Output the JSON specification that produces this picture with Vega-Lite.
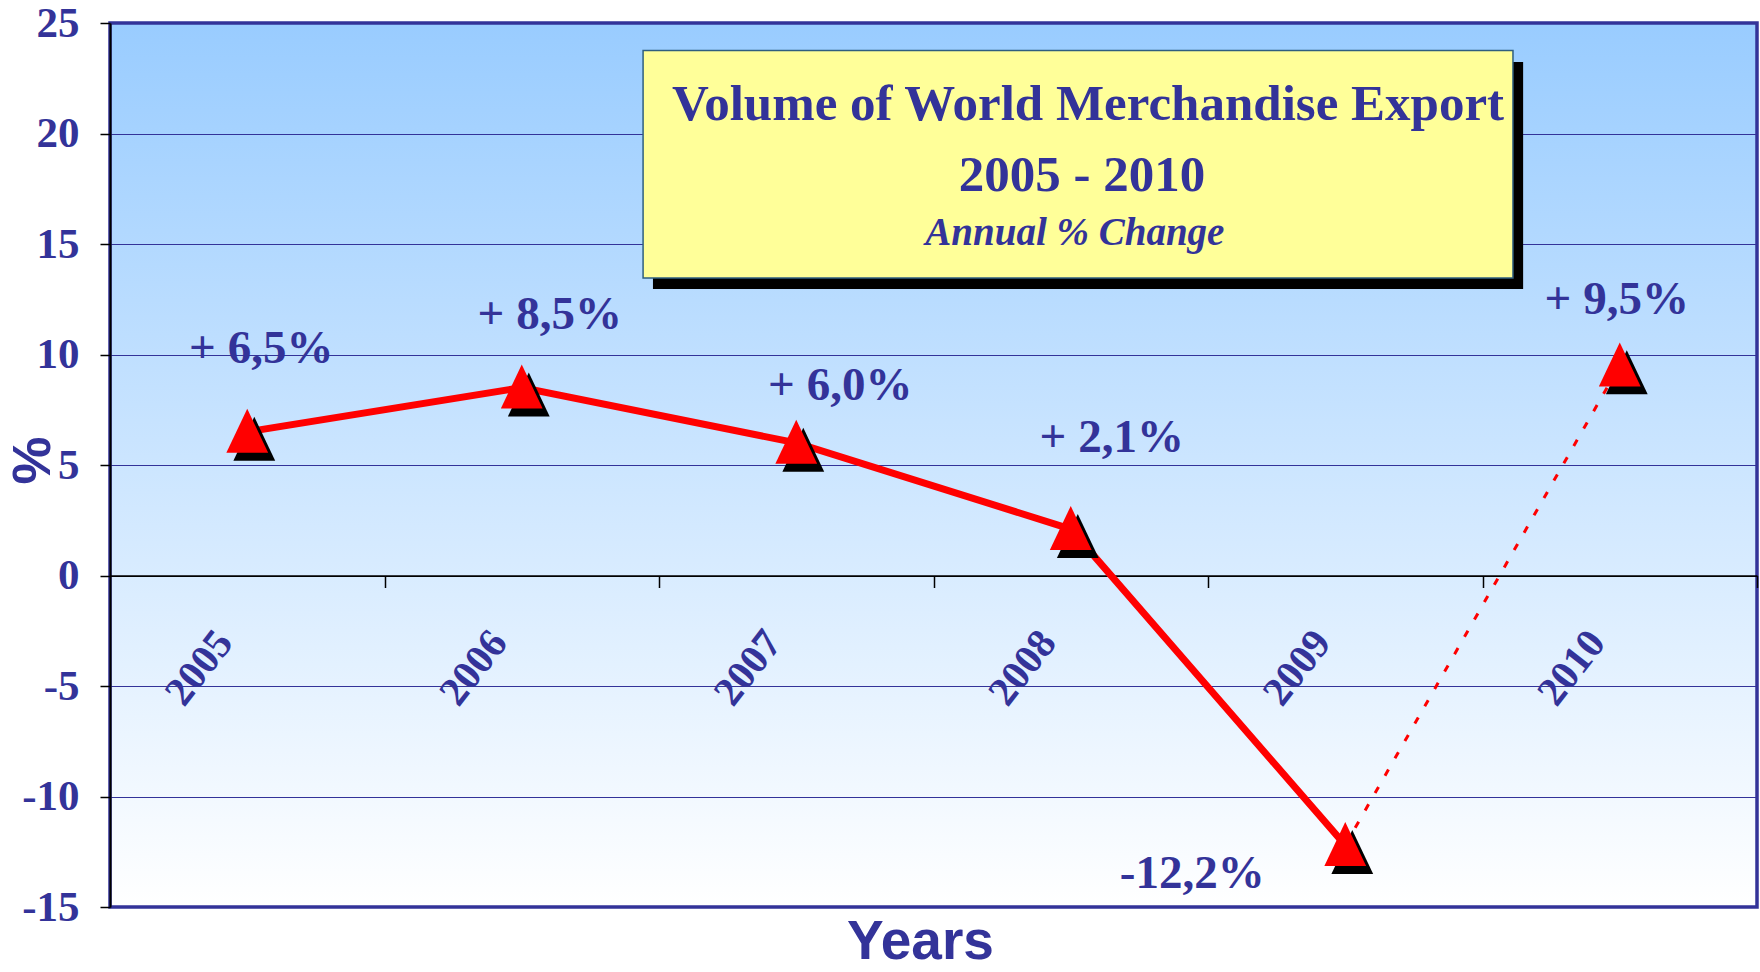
{
  "$schema": "https://vega.github.io/schema/vega-lite/v6.json",
  "width": 1647,
  "height": 884,
  "autosize": {"type": "none"},
  "padding": {"left": 110, "top": 23, "right": 3, "bottom": 65},
  "background": "white",
  "config": {
    "view": {
      "stroke": "#333399",
      "strokeWidth": 3.5,
      "fill": {"gradient": "linear", "x1": 0, "y1": 0, "x2": 0, "y2": 1,
        "stops": [{"offset": 0, "color": "#99CCFF"}, {"offset": 1, "color": "#FFFFFF"}]}
    }
  },
  "data": {"values": [
    {"year": 2005, "value": 6.5, "label": "+ 6,5%"},
    {"year": 2006, "value": 8.5, "label": "+ 8,5%"},
    {"year": 2007, "value": 6.0, "label": "+ 6,0%"},
    {"year": 2008, "value": 2.1, "label": "+ 2,1%"},
    {"year": 2009, "value": -12.2, "label": "-12,2%"},
    {"year": 2010, "value": 9.5, "label": "+ 9,5%"}
  ]},
  "layer": [
    {
      "data": {"values": [{}]},
      "mark": {"type": "rect", "color": "black", "opacity": 1},
      "encoding": {
        "x": {"datum": 2006.478, "type": "quantitative"}, "x2": {"datum": 2009.648},
        "y": {"datum": 23.235, "type": "quantitative"}, "y2": {"datum": 12.964}
      }
    },
    {
      "data": {"values": [{}]},
      "mark": {"type": "rect", "fill": "#FFFF99", "stroke": "#2F5F7F", "strokeWidth": 1.5, "opacity": 1},
      "encoding": {
        "x": {"datum": 2006.442, "type": "quantitative"}, "x2": {"datum": 2009.611},
        "y": {"datum": 23.756, "type": "quantitative"}, "y2": {"datum": 13.462}
      }
    },
    {
      "data": {"values": [{}]},
      "mark": {"type": "text", "text": "Volume of World Merchandise Export", "font": "Liberation Serif", "fontWeight": "bold", "fontSize": 51, "color": "#333399", "align": "center", "baseline": "alphabetic"},
      "encoding": {"x": {"datum": 2008.063, "type": "quantitative"}, "y": {"datum": 20.61, "type": "quantitative"}}
    },
    {
      "data": {"values": [{}]},
      "mark": {"type": "text", "text": "2005 - 2010", "font": "Liberation Serif", "fontWeight": "bold", "fontSize": 51, "color": "#333399", "align": "center", "baseline": "alphabetic"},
      "encoding": {"x": {"datum": 2008.041, "type": "quantitative"}, "y": {"datum": 17.4, "type": "quantitative"}}
    },
    {
      "data": {"values": [{}]},
      "mark": {"type": "text", "text": "Annual % Change", "font": "Liberation Serif", "fontWeight": "bold", "fontStyle": "italic", "fontSize": 39, "color": "#333399", "align": "center", "baseline": "alphabetic"},
      "encoding": {"x": {"datum": 2008.015, "type": "quantitative"}, "y": {"datum": 14.97, "type": "quantitative"}}
    },
    {
      "encoding": {
        "x": {
          "field": "year", "type": "quantitative",
          "scale": {"domain": [2004.5, 2010.5], "nice": false, "zero": false},
          "axis": {
            "values": [2005.5, 2006.5, 2007.5, 2008.5, 2009.5, 2010.5],
            "labelExpr": "format(datum.value - 0.5, 'd')",
            "offset": -331.5,
            "grid": false,
            "domainColor": "black", "domainWidth": 1.5,
            "tickColor": "black", "tickSize": 12, "tickWidth": 1.5,
            "labelAngle": -52, "labelAlign": "right", "labelBaseline": "middle",
            "labelPadding": 48, "labelOffset": -160,
            "labelFont": "Liberation Serif", "labelFontWeight": "bold", "labelFontSize": 41, "labelColor": "#333399",
            "labelFlush": false, "labelOverlap": false, "labelBound": false,
            "title": "Years",
            "titleFont": "Liberation Sans", "titleFontSize": 55, "titleFontWeight": "bold", "titleColor": "#333399",
            "titleBaseline": "alphabetic", "titleAlign": "center", "titleX": 810, "titleY": 383
          }
        },
        "y": {
          "field": "value", "type": "quantitative",
          "scale": {"domain": [-15, 25], "nice": false, "zero": false},
          "axis": {
            "values": [-15, -10, -5, 0, 5, 10, 15, 20, 25],
            "labelExpr": "'' + datum.value",
            "grid": true,
            "gridColor": {"condition": {"test": "datum.value === 0", "value": "black"}, "value": "#333399"},
            "gridWidth": 1,
            "domainColor": "black", "domainWidth": 2,
            "tickColor": "black", "tickSize": 10, "tickWidth": 1.5,
            "labelPadding": 21,
            "labelFont": "Liberation Serif", "labelFontWeight": "bold", "labelFontSize": 43, "labelColor": "#333399",
            "labelFlush": false, "labelOverlap": false,
            "title": "%",
            "titleFont": "Liberation Sans", "titleFontSize": 54, "titleFontWeight": "bold", "titleColor": "#333399",
            "titleX": -77, "titleY": 437, "titleAngle": -90, "titleBaseline": "middle", "titleAlign": "center"
          }
        }
      },
      "layer": [
        {
          "transform": [{"filter": "datum.year <= 2009"}],
          "mark": {"type": "line", "color": "#FF0000", "strokeWidth": 7}
        },
        {
          "transform": [{"filter": "datum.year >= 2009"}],
          "mark": {"type": "line", "color": "#FF0000", "strokeWidth": 3, "strokeDash": [7, 13]}
        },
        {
          "mark": {"type": "point", "shape": "M0.32,-0.69L1.27,1.31L-0.63,1.31Z", "size": 1936, "filled": true, "color": "black", "opacity": 1}
        },
        {
          "mark": {"type": "point", "shape": "M0,-1.05L0.95,0.95L-0.95,0.95Z", "size": 1936, "filled": true, "color": "#FF0000", "opacity": 1}
        },
        {
          "transform": [{"filter": "datum.year == 2005"}],
          "mark": {"type": "text", "font": "Liberation Serif", "fontWeight": "bold", "fontSize": 47, "color": "#333399", "align": "center", "baseline": "alphabetic", "dx": 14, "dy": -69},
          "encoding": {"text": {"field": "label"}}
        },
        {
          "transform": [{"filter": "datum.year == 2006"}],
          "mark": {"type": "text", "font": "Liberation Serif", "fontWeight": "bold", "fontSize": 47, "color": "#333399", "align": "center", "baseline": "alphabetic", "dx": 28, "dy": -59},
          "encoding": {"text": {"field": "label"}}
        },
        {
          "transform": [{"filter": "datum.year == 2007"}],
          "mark": {"type": "text", "font": "Liberation Serif", "fontWeight": "bold", "fontSize": 47, "color": "#333399", "align": "center", "baseline": "alphabetic", "dx": 44, "dy": -43},
          "encoding": {"text": {"field": "label"}}
        },
        {
          "transform": [{"filter": "datum.year == 2008"}],
          "mark": {"type": "text", "font": "Liberation Serif", "fontWeight": "bold", "fontSize": 47, "color": "#333399", "align": "center", "baseline": "alphabetic", "dx": 41, "dy": -77},
          "encoding": {"text": {"field": "label"}}
        },
        {
          "transform": [{"filter": "datum.year == 2009"}],
          "mark": {"type": "text", "font": "Liberation Serif", "fontWeight": "bold", "fontSize": 47, "color": "#333399", "align": "center", "baseline": "alphabetic", "dx": -153, "dy": 43},
          "encoding": {"text": {"field": "label"}}
        },
        {
          "transform": [{"filter": "datum.year == 2010"}],
          "mark": {"type": "text", "font": "Liberation Serif", "fontWeight": "bold", "fontSize": 47, "color": "#333399", "align": "center", "baseline": "alphabetic", "dx": -3, "dy": -52},
          "encoding": {"text": {"field": "label"}}
        }
      ]
    }
  ]
}
